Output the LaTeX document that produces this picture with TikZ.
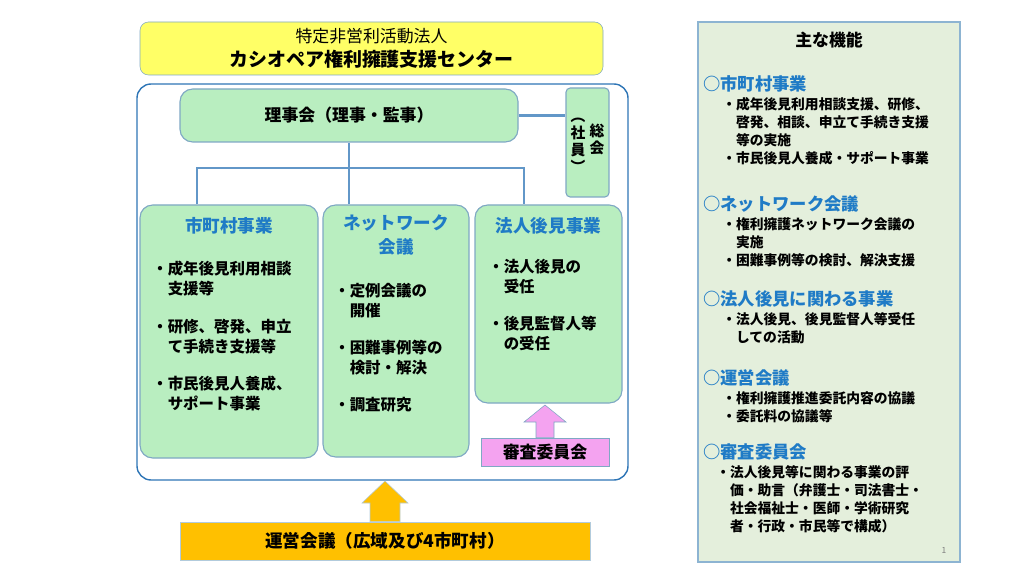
\documentclass[tikz,border=0pt]{standalone}
\usepackage{fontspec}
\setmainfont{Noto Sans CJK JP}
\usetikzlibrary{positioning}
\definecolor{boxgreen}{HTML}{B9EEC0}
\definecolor{boxline}{HTML}{7FA8C4}
\definecolor{frameblue}{HTML}{2E75B6}
\definecolor{headblue}{HTML}{1F7BC6}
\definecolor{titleyellow}{HTML}{FFFF66}
\definecolor{panelgreen}{HTML}{E4EFDC}
\definecolor{panelline}{HTML}{8DB4D2}
\definecolor{bandorange}{HTML}{FFC000}
\definecolor{pinkbox}{HTML}{F4A3F0}
\tikzset{
	unitbox/.style={draw=boxline,fill=boxgreen,rounded corners=9pt,line width=0.8pt},
	linkline/.style={draw=frameblue!75,line width=2pt},
	head/.style={font=\bfseries\fontsize{12.5}{18}\selectfont,text=headblue,align=center},
	body/.style={font=\bfseries\fontsize{11}{14.3}\selectfont,align=left,anchor=north west,inner sep=0pt},
	phead/.style={font=\bfseries\fontsize{12.3}{14}\selectfont,text=headblue,anchor=west,inner sep=0pt},
	pbody/.style={font=\bfseries\fontsize{9.8}{12.9}\selectfont,align=left,anchor=north west,inner sep=0pt},
	vtext/.style={font=\bfseries\fontsize{10.5}{12}\selectfont,align=center,inner sep=0pt,anchor=north}
}
\newcommand{\hang}{\hphantom{・}}
\begin{document}
\begin{tikzpicture}[x=0.025cm,y=-0.025cm]
	\useasboundingbox (0,0) rectangle (1024,576);
	
		% title
		\node[draw=boxline,fill=titleyellow,rounded corners=6pt,minimum width=463*0.025cm,minimum height=53*0.025cm,align=center,font=\fontsize{12}{17}\selectfont] (title) at (371.5,48.5)
			{特定非営利活動法人\\{\bfseries\fontsize{13.5}{17}\selectfont カシオペア権利擁護支援センター}};
		
		% frame
		\draw[frameblue,line width=1pt,rounded corners=10pt] (137,84) rectangle (628,480);
		
		\node[unitbox,minimum width=338*0.025cm,minimum height=53*0.025cm,font=\bfseries\fontsize{12}{14}\selectfont] (board) at (349,115.5) {理事会（理事・監事）};
		\node[draw=boxline,fill=boxgreen,line width=0.8pt,rounded corners=3pt,minimum width=43*0.025cm,minimum height=109*0.025cm] (general) at (587.5,142.5) {};
		\node[vtext] (gname) at (597,124) {総\\会};
		\node[vtext] (gmember) at (578,118) {︵\\社\\員\\︶};
		
		\node[unitbox,minimum width=178*0.025cm,minimum height=253*0.025cm] (city) at (229,331.5) {};
		\node[unitbox,minimum width=146*0.025cm,minimum height=252*0.025cm] (net) at (396,331) {};
		\node[unitbox,minimum width=147*0.025cm,minimum height=198*0.025cm] (corp) at (548.5,304) {};
		
		\coordinate (split) at (349,168);
		\draw[linkline] (board.east) -- (general.west |- board.east);
		\draw[linkline] (board.south) -- (split);
		\draw[linkline] (city.north -| 197,0) |- (split) -| (corp.north -| 524,0);
		\draw[linkline] (split) -- (net.north -| split);
		
		% box texts
		\node[head] at (229,226) {市町村事業};
		\node[body] at (152,261) {・成年後見利用相談\\\hang 支援等\\[1.1em]・研修、啓発、申立\\\hang て手続き支援等\\[1.1em]・市民後見人養成、\\\hang サポート事業};
		\node[head,font=\bfseries\fontsize{12.5}{17.5}\selectfont] at (396,235) {ネットワーク\\会議};
		\node[body] at (334,283) {・定例会議の\\\hang 開催\\[1.1em]・困難事例等の\\\hang 検討・解決\\[1.1em]・調査研究};
		\node[head] at (548.5,226) {法人後見事業};
		\node[body] at (488,259) {・法人後見の\\\hang 受任\\[1.1em]・後見監督人等\\\hang の受任};
		
		% review committee
		\node[draw=boxline,fill=pinkbox,minimum width=128*0.025cm,minimum height=28*0.025cm,font=\bfseries\fontsize{12}{13}\selectfont] (review) at (545,452) {審査委員会};
		\fill[pinkbox,draw=boxline] (review.north -| 536,0) -- (536,422) -- (524,422) -- (545,405) -- (566,422) -- (554,422) -- (review.north -| 554,0) -- cycle;
		
		% steering
		\node[draw=boxline!60,fill=bandorange,minimum width=410*0.025cm,minimum height=38*0.025cm,font=\bfseries\fontsize{12.5}{14}\selectfont] (steer) at (385,541) {運営会議（広域及び4市町村）};
		\fill[bandorange,draw=boxline!60] (steer.north -| 370,0) -- (370,503) -- (362,503) -- (385,481) -- (408,503) -- (400,503) -- (steer.north -| 400,0) -- cycle;
		
		% panel
		\node[draw=panelline,fill=panelgreen,line width=1pt,minimum width=262*0.025cm,minimum height=540*0.025cm] (panel) at (829,292) {};
		\node[font=\bfseries\fontsize{12}{13}\selectfont] (main) at (829,40) {主な機能};
		\node[phead] at (703,84) {○市町村事業};
		\node[pbody] at (722,97) {・成年後見利用相談支援、研修、\\\hang 啓発、相談、申立て手続き支援\\\hang 等の実施\\・市民後見人養成・サポート事業};
		\node[phead] at (703,204) {○ネットワーク会議};
		\node[pbody] at (722,217) {・権利擁護ネットワーク会議の\\\hang 実施\\・困難事例等の検討、解決支援};
		\node[phead] at (703,299) {○法人後見に関わる事業};
		\node[pbody] at (722,312) {・法人後見、後見監督人等受任\\\hang しての活動};
		\node[phead] at (703,378) {○運営会議};
		\node[pbody] at (722,391) {・権利擁護推進委託内容の協議\\・委託料の協議等};
		\node[phead] at (703,452) {○審査委員会};
		\node[pbody] at (716,465) {・法人後見等に関わる事業の評\\\hang 価・助言（弁護士・司法書士・\\\hang 社会福祉士・医師・学術研究\\\hang 者・行政・市民等で構成）};
		\node[text=gray,font=\fontsize{6}{7}\selectfont] (page) at (944,550) {1};
	
\end{tikzpicture}
\end{document}
